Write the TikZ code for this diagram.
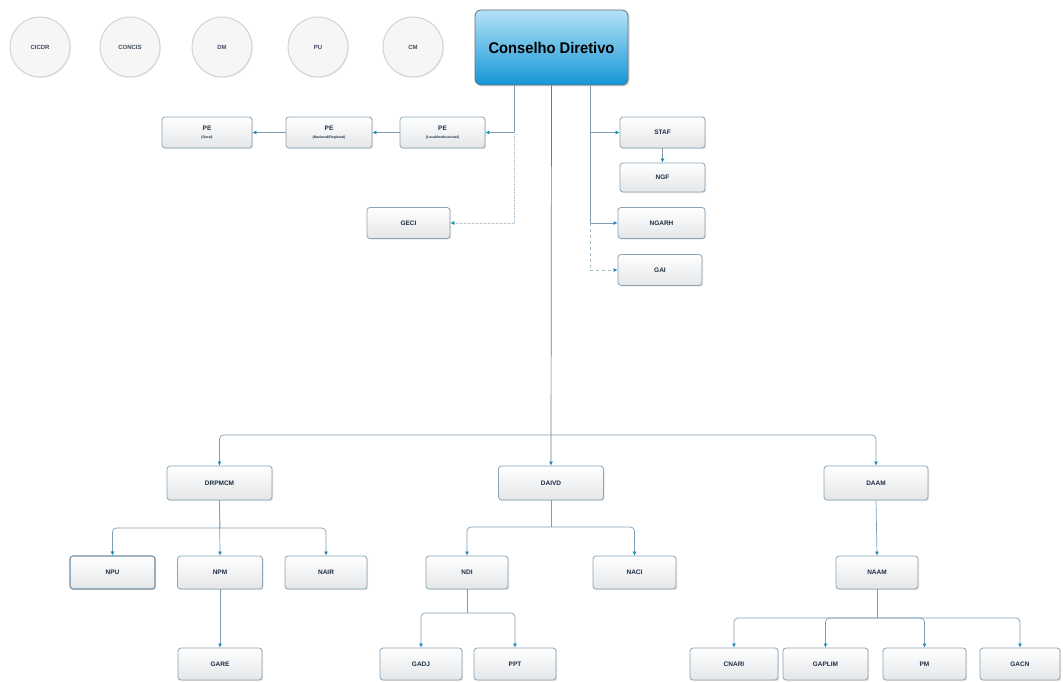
\documentclass[tikz,border=0pt]{standalone}
\usepackage{fontspec}
\setmainfont{Liberation Sans}
\usetikzlibrary{shadows,arrows.meta}
\definecolor{boxborder}{HTML}{8AA3B5}
\definecolor{boxfill}{HTML}{E4E6E8}
\definecolor{navy}{HTML}{1E2E44}
\definecolor{linec}{HTML}{7C9DB5}
\definecolor{arrc}{HTML}{1F8DB8}
\definecolor{circborder}{HTML}{D2D2D2}
\definecolor{circfill}{HTML}{F6F6F6}
\definecolor{cdtop}{HTML}{B4E2F7}
\definecolor{cdbot}{HTML}{1596D6}
\tikzset{
  unit/.style={draw=boxborder, line width=0.8pt, rounded corners=3pt, top color=white, bottom color=boxfill,
    minimum width=85pt, minimum height=31pt, inner sep=1pt, align=center,
    font=\bfseries\fontsize{6.5}{7}\selectfont, text=navy,
    drop shadow={opacity=0.2, shadow xshift=1.2pt, shadow yshift=-1.2pt}},
  circ/.style={circle, draw=circborder, line width=1pt, fill=circfill, minimum size=60pt, inner sep=0pt,
    font=\bfseries\fontsize{6}{7}\selectfont, text=navy!85,
    drop shadow={opacity=0.12, shadow xshift=1pt, shadow yshift=-1pt}},
  conn/.style={draw=linec, line width=0.7pt},
  arr/.style={conn, -{Latex[length=4pt,width=4pt,color=arrc]}},
  faint/.style={draw=linec!60, line width=0.6pt, densely dotted}
}
\begin{document}
\begin{tikzpicture}[x=1pt,y=-1pt]
\useasboundingbox (0,0) rectangle (1063,682);
% circles
\node[circ] (cicdr) at (40,47) {CICDR};
\node[circ] (concis) at (130,47) {CONCIS};
\node[circ] (dm) at (222,47) {DM};
\node[circ] (pu) at (318,47) {PU};
\node[circ] (cm) at (413,47) {CM};
% top
\node[draw=boxborder!70!black, line width=0.8pt, rounded corners=6pt, top color=cdtop, bottom color=cdbot,
  minimum width=153pt, minimum height=75pt, font=\bfseries\fontsize{15.5}{17}\selectfont, text=black,
  drop shadow={opacity=0.3, shadow xshift=1.5pt, shadow yshift=-1.5pt}] (cd) at (551.5,47.5) {\addfontfeature{FakeStretch=0.95}Conselho Diretivo};
% PE row
\node[unit, minimum width=90pt] (pe1) at (207,132.5) {PE\\[1pt]{\fontsize{3.5}{4}\selectfont (Geral)}};
\node[unit, minimum width=86pt] (pe2) at (329,132.5) {PE\\[1pt]{\fontsize{3.5}{4}\selectfont (Nacional/Regional)}};
\node[unit, minimum width=85pt] (pe3) at (442.5,132.5) {PE\\[1pt]{\fontsize{3.5}{4}\selectfont (Local/Institucional)}};
\node[unit, minimum width=83pt] (geci) at (408.5,223) {GECI};
% right staff
\node[unit] (staf) at (662.5,132.5) {STAF};
\node[unit, minimum height=29pt] (ngf) at (662.5,177.5) {NGF};
\node[unit, minimum width=87pt] (ngarh) at (661.5,223) {NGARH};
\node[unit, minimum width=84pt] (gai) at (660,270) {GAI};
% directorates
\node[unit, minimum width=105pt, minimum height=34pt] (drpmcm) at (219.5,483) {DRPMCM};
\node[unit, minimum width=105pt, minimum height=34pt] (daivd) at (551,483) {DAIVD};
\node[unit, minimum width=104pt, minimum height=34pt] (daam) at (876,483) {DAAM};
% nuclei
\node[unit, minimum height=33pt, draw=linec!90!black, line width=1.1pt] (npu) at (112.5,572.5) {NPU};
\node[unit, minimum height=33pt] (npm) at (220,572.5) {NPM};
\node[unit, minimum width=82pt, minimum height=33pt] (nair) at (326,572.5) {NAIR};
\node[unit, minimum width=82pt, minimum height=33pt] (ndi) at (467,572.5) {NDI};
\node[unit, minimum width=83pt, minimum height=33pt] (naci) at (634.5,572.5) {NACI};
\node[unit, minimum width=82pt, minimum height=33pt] (naam) at (877,572.5) {NAAM};
% bottom row
\node[unit, minimum width=84pt, minimum height=32pt] (gare) at (220,664) {GARE};
\node[unit, minimum width=82pt, minimum height=32pt] (gadj) at (421,664) {GADJ};
\node[unit, minimum width=82pt, minimum height=32pt] (ppt) at (515,664) {PPT};
\node[unit, minimum width=88pt, minimum height=32pt] (cnari) at (734,664) {CNARI};
\node[unit, minimum width=85pt, minimum height=32pt] (gaplim) at (825.5,664) {GAPLIM};
\node[unit, minimum width=83pt, minimum height=32pt] (pm) at (924.5,664) {PM};
\node[unit, minimum width=80pt, minimum height=32pt] (gacn) at (1020,664) {GACN};
% coordinates
\coordinate (lx) at ([xshift=-37.5pt]cd.south);
\coordinate (rx) at ([xshift=38.5pt]cd.south);
\coordinate (bus) at (551,435);
\coordinate (b1) at (220,528);
\coordinate (b2) at (551,527);
\coordinate (b3) at (467,613);
\coordinate (b4) at (877,618);
% left dotted branch
\draw[conn] (lx) -- (lx |- pe3.east);
\draw[faint] (lx |- pe3.east) -- (lx |- geci.east);
\draw[arr] (lx |- pe3.east) -- (pe3.east);
\draw[arr] (pe3.west) -- (pe2.east);
\draw[arr] (pe2.west) -- (pe1.east);
\draw[faint, -{Latex[length=4pt,width=4pt,color=arrc]}] (lx |- geci.east) -- (geci.east);
% right branch
\draw[conn] (rx) -- (rx |- ngarh.west);
\draw[arr] (rx |- staf.west) -- (staf.west);
\draw[arr] (rx |- ngarh.west) -- (ngarh.west);
\draw[arr] (staf.south) -- (ngf.north);
\draw[conn, dashed, draw=linec!70] (rx |- ngarh.west) -- (rx |- gai.west);
\draw[dashed, draw=linec!70, line width=0.7pt, -{Latex[length=4pt,width=4pt,color=arrc]}] (rx |- gai.west) -- (gai.west);
% trunk
\draw[arr, draw=linec!80!black] (cd.south) -- (daivd.north);
\draw[arr, rounded corners=4pt] (bus) -| (drpmcm.north);
\draw[arr, rounded corners=4pt] (bus) -| (daam.north);
% DRPMCM children
\draw[conn] (drpmcm.south) -- (b1);
\draw[arr, rounded corners=4pt] (b1) -| (npu.north);
\draw[arr] (drpmcm.south) -- (npm.north);
\draw[arr, rounded corners=4pt] (b1) -| (nair.north);
\draw[arr] (npm.south) -- (gare.north);
% DAIVD children
\draw[conn] (daivd.south) -- (b2);
\draw[arr, rounded corners=4pt] (b2) -| (ndi.north);
\draw[arr, rounded corners=4pt] (b2) -| (naci.north);
\draw[conn] (ndi.south) -- (b3);
\draw[arr, rounded corners=4pt] (b3) -| (gadj.north);
\draw[arr, rounded corners=4pt] (b3) -| (ppt.north);
% DAAM children
\draw[arr] (daam.south) -- (naam.north);
\draw[conn] (naam.south) -- (b4);
\draw[arr, rounded corners=4pt] (b4) -| (cnari.north);
\draw[arr, rounded corners=4pt] (b4) -| (gaplim.north);
\draw[arr, rounded corners=4pt] (b4) -| (pm.north);
\draw[arr, rounded corners=4pt] (b4) -| (gacn.north);
\end{tikzpicture}
\end{document}
